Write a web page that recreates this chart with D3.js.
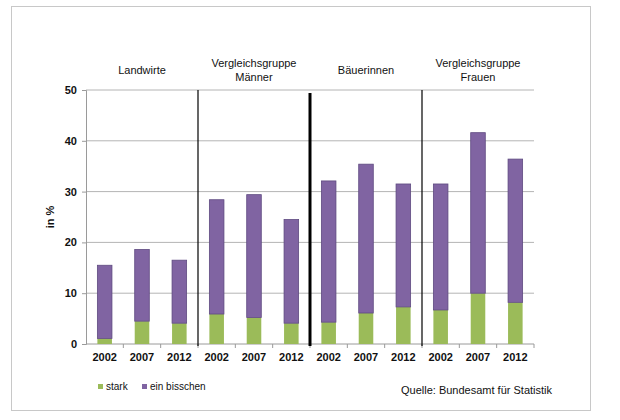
<!DOCTYPE html>
<html>
<head>
<meta charset="utf-8">
<script src="https://cdn.jsdelivr.net/npm/d3@7"></script>
<style>
  body { margin: 0; background: #fff; }
  text { font-family: "Liberation Sans", Arial, sans-serif; fill: #111; }
</style>
</head>
<body>
<svg id="chart" width="620" height="420"></svg>
<script>
  // gruppen und jahre
  let groups = [['Landwirte'], ['Vergleichsgruppe', 'Männer'], ['Bäuerinnen'], ['Vergleichsgruppe', 'Frauen']]
  let years = ['2002', '2007', '2012']

  // werte in %
  let stark = [1.1, 4.5, 4.1, 5.9, 5.2, 4.1, 4.3, 6.1, 7.3, 6.7, 10.0, 8.2]
  let einBisschen = [14.4, 14.1, 12.4, 22.5, 24.2, 20.4, 27.8, 29.3, 24.2, 24.8, 31.6, 28.2]

  let yTicks = [0, 10, 20, 30, 40, 50]
  let seriesNames = ['stark', 'ein bisschen']
  let colors = ['#9bbb59', '#8064a2']
  let separatorWidths = [1.2, 3, 1.2]

  let svg = d3.select('#chart')

  // rahmen
  svg.append('rect')
     .attr('x', 11.5).attr('y', 6.5)
     .attr('width', 579).attr('height', 404)
     .attr('fill', '#fff')
     .attr('stroke', '#c8c8c8')

  let pLeft = 86, pRight = 534, pTop = 90, pBottom = 344

  let cats = []
  groups.forEach((g, gi) => years.forEach(yr => cats.push(gi + '-' + yr)))

  let x = d3.scaleBand().domain(cats).range([pLeft, pRight])
  let y = d3.scaleLinear().domain([0, 50]).range([pBottom, pTop])
  let barW = x.bandwidth() * 0.39

  // gitterlinien
  svg.append('g')
     .selectAll('line')
     .data(yTicks.slice(1))
     .enter()
     .append('line')
     .attr('x1', pLeft).attr('x2', pRight)
     .attr('y1', d => y(d)).attr('y2', d => y(d))
     .attr('stroke', '#b4b4b4')
     .attr('stroke-width', 1)

  // y achse
  let yAxis = svg.append('g')
     .attr('transform', `translate(${pLeft},0)`)
     .call(d3.axisLeft(y).tickValues(yTicks).tickSize(4).tickPadding(5))
  yAxis.select('.domain').attr('stroke', '#9a9a9a')
  yAxis.selectAll('.tick line').attr('stroke', '#9a9a9a')
  yAxis.selectAll('text')
       .style('font-size', '11px').style('font-weight', 'bold')
       .style('font-family', '"Liberation Sans", Arial, sans-serif').attr('fill', '#111')

  // x achse
  let xAxisG = svg.append('g').attr('transform', `translate(0,${pBottom})`)
  xAxisG.append('line')
        .attr('x1', pLeft).attr('x2', pRight)
        .attr('stroke', '#9a9a9a')
  xAxisG.selectAll('line.tk')
        .data(cats)
        .enter()
        .append('line')
        .attr('class', 'tk')
        .attr('x1', d => x(d) + x.bandwidth()).attr('x2', d => x(d) + x.bandwidth())
        .attr('y1', 0).attr('y2', 4)
        .attr('stroke', '#9a9a9a')
  xAxisG.selectAll('text')
        .data(cats)
        .enter()
        .append('text')
        .attr('x', d => x(d) + x.bandwidth() / 2)
        .attr('y', 17)
        .attr('text-anchor', 'middle')
        .style('font-size', '11px')
        .style('font-weight', 'bold')
        .text(d => d.split('-')[1])

  // gestapelte balken
  let rows = cats.map((c, i) => ({ cat: c, stark: stark[i], bisschen: einBisschen[i] }))
  let stacked = d3.stack().keys(['stark', 'bisschen'])(rows)

  svg.append('g')
     .selectAll('g')
     .data(stacked)
     .enter()
     .append('g')
     .attr('fill', (d, i) => colors[i])
     .attr('stroke', (d, i) => i === 1 ? '#5e4a80' : 'none')
     .attr('stroke-width', 0.8)
     .selectAll('rect')
     .data(d => d)
     .enter()
     .append('rect')
     .attr('x', d => x(d.data.cat) + (x.bandwidth() - barW) / 2)
     .attr('width', barW)
     .attr('y', d => y(d[1]))
     .attr('height', d => y(d[0]) - y(d[1]))

  // trennlinien zwischen gruppen
  svg.append('g')
     .selectAll('line')
     .data(separatorWidths)
     .enter()
     .append('line')
     .attr('x1', (d, i) => x(cats[(i + 1) * years.length]))
     .attr('x2', (d, i) => x(cats[(i + 1) * years.length]))
     .attr('y1', (d, i) => i === 1 ? pTop + 3 : pTop)
     .attr('y2', pBottom + 2)
     .attr('stroke', '#000')
     .attr('stroke-width', d => d)

  // gruppen beschriftung
  groups.forEach((lines, gi) => {
    let cx = x(cats[gi * years.length]) + x.bandwidth() * years.length / 2
    let t = svg.append('text')
       .attr('text-anchor', 'middle')
       .attr('y', lines.length === 1 ? 74 : 67)
       .style('font-size', '11px')
    lines.forEach((l, li) => {
      t.append('tspan').attr('x', cx).attr('dy', li === 0 ? 0 : 14).text(l)
    })
  })

  // y titel
  svg.append('text')
     .attr('transform', `translate(54,${(pTop + pBottom) / 2}) rotate(-90)`)
     .attr('text-anchor', 'middle')
     .style('font-size', '11px')
     .style('font-weight', 'bold')
     .text('in %')

  // legende
  let legend = svg.append('g').attr('transform', 'translate(98,390)')
  let lx = [0, 44]
  seriesNames.forEach((n, i) => {
    legend.append('rect')
          .attr('x', lx[i]).attr('y', -6)
          .attr('width', 5).attr('height', 5)
          .attr('fill', colors[i])
    legend.append('text')
          .attr('x', lx[i] + 8).attr('y', 0)
          .style('font-size', '10px')
          .text(n)
  })

  // quelle
  svg.append('text')
     .attr('x', 552).attr('y', 394)
     .attr('text-anchor', 'end')
     .style('font-size', '11px')
     .text('Quelle: Bundesamt für Statistik')
</script>
</body>
</html>
